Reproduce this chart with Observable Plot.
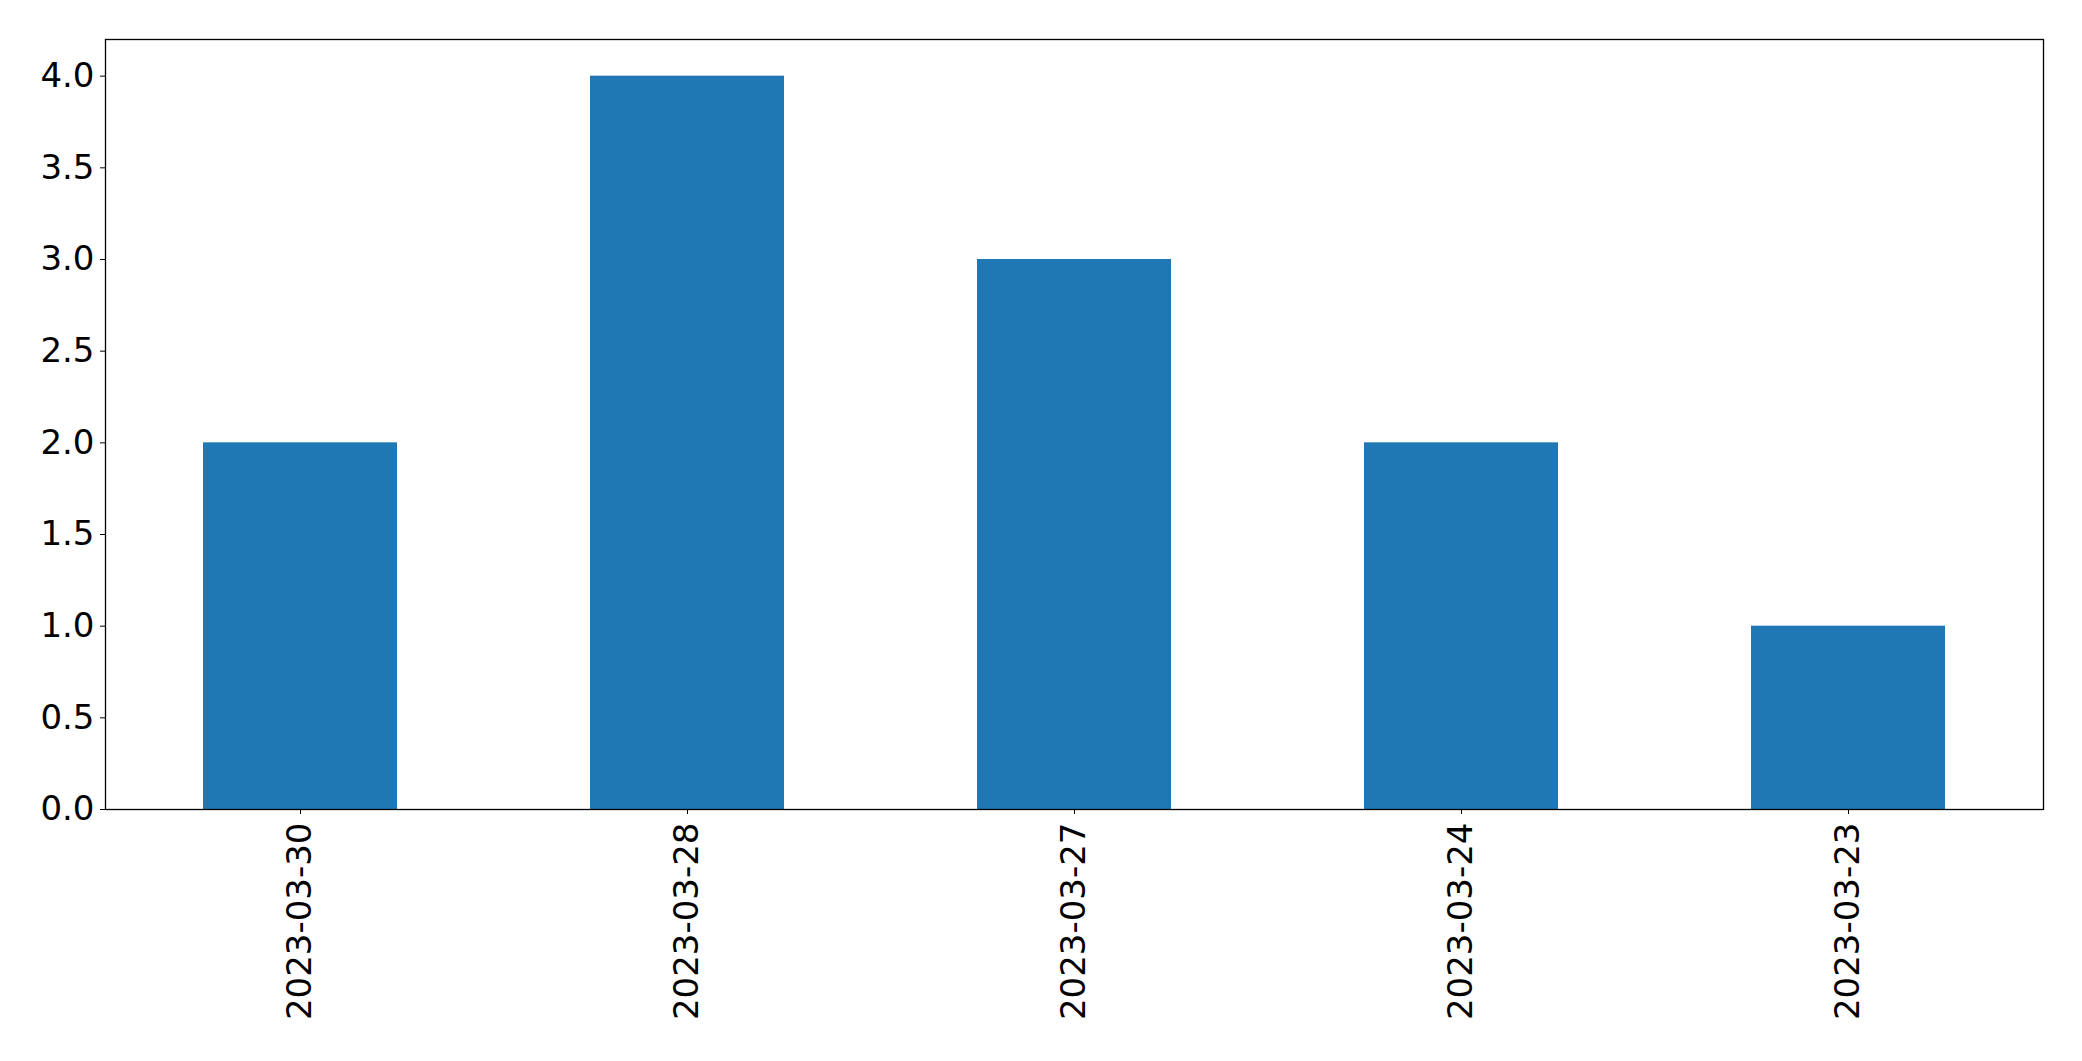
<!DOCTYPE html>
<html>
<head>
<meta charset="utf-8">
<script src="https://cdn.jsdelivr.net/npm/d3@7"></script>
<script src="https://cdn.jsdelivr.net/npm/@observablehq/plot@0.6"></script>
<style>
  html, body { margin: 0; padding: 0; background: #fff; }
  svg { display: block; }
</style>
</head>
<body>
<div id="chart"></div>
<script>
const dates = ["2023-03-30", "2023-03-28", "2023-03-27", "2023-03-24", "2023-03-23"];
const counts = [2, 4, 3, 2, 1];
const yTicks = [0, 0.5, 1, 1.5, 2, 2.5, 3, 3.5, 4];

const data = dates.map((d, i) => ({date: d, count: counts[i]}));

const chart = Plot.plot({
  width: 2082,
  height: 1061,
  marginLeft: 105,
  marginRight: 39,
  marginTop: 39,
  marginBottom: 252,
  style: {fontFamily: "DejaVu Sans", fontSize: "34px", color: "#000", background: "#fff"},
  x: {domain: dates, paddingInner: 0.5, paddingOuter: 0.25, label: null},
  y: {domain: [0, 4.2], label: null},
  marks: [
    Plot.barY(data, {x: "date", y: "count", fill: "#1f77b4"}),
    Plot.frame({stroke: "#000", strokeWidth: 1.3}),
    Plot.axisY({ticks: yTicks, tickFormat: d3.format(".1f"), tickSize: 5, tickPadding: 6, fontSize: 34, label: null, stroke: "#000"}),
    Plot.axisX({tickSize: 5, tickPadding: 8, tickRotate: -90, fontSize: 34, label: null, stroke: "#000"})
  ]
});
document.getElementById("chart").appendChild(chart);
</script>
</body>
</html>
